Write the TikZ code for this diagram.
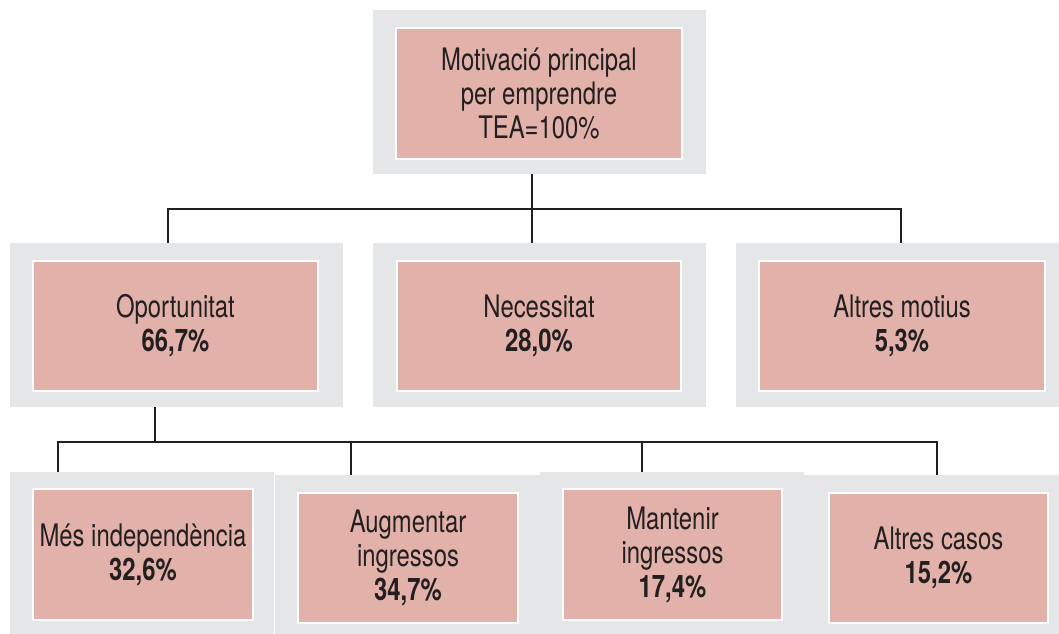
\documentclass[tikz,border=0pt]{standalone}
\usepackage{fontspec}
\setmainfont{TeX Gyre Heros}[FakeStretch=0.77]
\usepackage{xcolor}
\usepackage{tikz}
\definecolor{boxpink}{RGB}{226,178,170}
\definecolor{framegray}{RGB}{229,230,232}
\definecolor{inkdark}{RGB}{35,31,32}
\tikzset{
  frame/.style 2 args={fill=framegray, inner sep=0pt, minimum width=#1, minimum height=#2},
  card/.style 2 args={draw=white, line width=2pt, fill=boxpink, text=inkdark, align=center,
    inner sep=0pt, minimum width=#1, minimum height=#2, font=\fontsize{31}{34}\selectfont},
  link/.style={draw=inkdark, line width=2.8pt}
}

\begin{document}
\begin{tikzpicture}[x=1pt, y=-1pt]
\path[use as bounding box, clip] (0,0) rectangle (1059,633);
% top
\node[frame={333}{164}] (topf) at (539.5,92) {};
\node[card={286}{131}] (top) at (539,93.5) {Motivació principal\\per emprendre\\TEA=100\%};
% middle row
\node[frame={333}{164}] (opof) at (176.5,325) {};
\node[card={285}{130}] (opo) at (175.5,326) {Oportunitat\\\textbf{66,7\%}};
\node[frame={333}{164}] (necf) at (539.5,325) {};
\node[card={284}{130}] (nec) at (539,326) {Necessitat\\\textbf{28,0\%}};
\node[frame={331}{164}] (altf) at (901.5,325) {};
\node[card={286}{130}] (alt) at (902,326) {Altres motius\\\textbf{5,3\%}};
% bottom row
\node[frame={264}{165}] (indf) at (142,554.5) {};
\node[card={220}{131}] (ind) at (143,554.5) {Més independència\\\textbf{32,6\%}};
\node[frame={265}{165}] (augf) at (407.5,557.5) {};
\node[card={220}{130}] (aug) at (408,558) {Augmentar\\ingressos\\\textbf{34,7\%}};
\node[frame={264}{165}] (manf) at (672,554.5) {};
\node[card={219}{131}] (man) at (672.5,554.5) {Mantenir\\ingressos\\\textbf{17,4\%}};
\node[frame={266}{165}] (casf) at (937,557.5) {};
\node[card={219}{130}] (cas) at (938.5,558) {Altres casos\\\textbf{15,2\%}};
% connectors
\coordinate (bus1) at (532,209);
\coordinate (bus2) at (155,442);
\draw[link] (bus1 |- topf.south) -- (bus1 |- necf.north);
\draw[link] ([xshift=-8.5pt]opof.north) |- (bus1) -| ([xshift=-0.5pt]altf.north);
\draw[link] (bus2 |- opof.south) -- (bus2);
\draw[link] ([xshift=-84pt]indf.north) |- (bus2) -| (casf.north);
\foreach \n/\dx in {aug/-56.5, man/-30}
  \draw[link] ([xshift=\dx pt]\n f.north) |- (bus2);
\end{tikzpicture}
\end{document}
